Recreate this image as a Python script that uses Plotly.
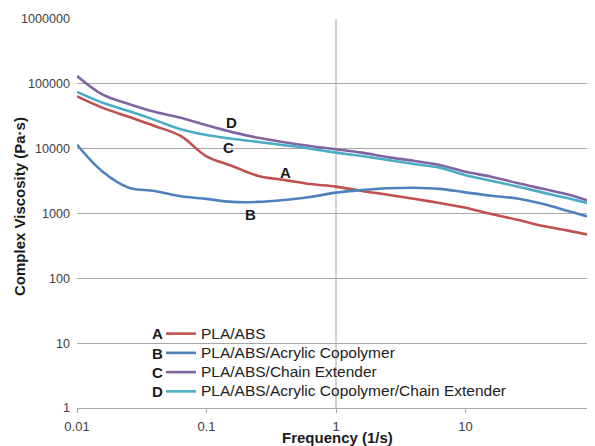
import math
import plotly.graph_objects as go

freq = [0.01, 0.0158, 0.0251, 0.0398, 0.0631, 0.1, 0.158, 0.251, 0.398, 0.631,
        1, 1.58, 2.51, 3.98, 6.31, 10, 15.8, 25.1, 39.8, 63.1, 100]

visc_A = [64000, 42600, 31000, 22400, 15700, 7600, 5400, 3800, 3300, 2850,
          2600, 2230, 1950, 1690, 1450, 1230, 980, 800, 640, 540, 450]
visc_B = [11500, 4400, 2500, 2230, 1850, 1680, 1510, 1510, 1620, 1800,
          2100, 2300, 2450, 2500, 2400, 2120, 1880, 1700, 1400, 1080, 830]
visc_C = [132000, 68000, 49000, 37000, 30000, 23000, 18000, 14700, 12600, 11000,
          9800, 8700, 7400, 6500, 5600, 4400, 3700, 2950, 2400, 1950, 1450]
visc_D = [75000, 51000, 38000, 27800, 20000, 16300, 14200, 12700, 11300, 10000,
          8700, 7700, 6700, 5800, 5100, 3900, 3200, 2600, 2100, 1700, 1350]

series_names = ["PLA/ABS", "PLA/ABS/Acrylic Copolymer", "PLA/ABS/Chain Extender",
                "PLA/ABS/Acrylic Copolymer/Chain Extender"]
series_letters = ["A", "B", "C", "D"]
series_colors = ["#C0504D", "#4F81BD", "#8064A2", "#4BACC6"]

y_ticks = [1, 10, 100, 1000, 10000, 100000, 1000000]
y_ticktext = ["1", "10", "100", "1000", "10000", "100000", "1000000"]
x_ticks = [0.01, 0.1, 1, 10]
x_ticktext = ["0.01", "0.1", "1", "10"]

x_title = "Frequency (1/s)"
y_title = "Complex Viscosity (Pa·s)"

# in-plot curve labels (frequency, viscosity)
label_text = ["D", "C", "A", "B"]
label_x = [0.157, 0.147, 0.404, 0.217]
label_y = [25000, 10300, 4240, 950]

FONT = "Liberation Sans, Arial, sans-serif"

# figure geometry (page body adds an 8px offset)
W, H = 587, 438
plot_l, plot_r, plot_t, plot_b = 69, 587, 11, 400


def px_to_paper(px, py):
    return (px - plot_l) / (plot_r - plot_l), (plot_b - py) / (plot_b - plot_t)


fig = go.Figure()
for name, vals, col in zip(series_names, [visc_A, visc_B, visc_C, visc_D], series_colors):
    fig.add_trace(go.Scatter(x=freq, y=vals, mode="lines",
                             name='<span style="font-size:15.5px">%s</span>' % name,
                             line=dict(color=col, width=2.6, shape="spline", smoothing=1.0)))

for t, xv, yv in zip(label_text, label_x, label_y):
    fig.add_annotation(x=math.log10(xv), y=math.log10(yv), text="<b>%s</b>" % t,
                       showarrow=False, xref="x", yref="y", xanchor="center", yanchor="middle",
                       font=dict(family=FONT, size=15, color="#1a1a1a"))

# legend letters
letter_rows = [325, 345, 364, 383]
for t, ry in zip(series_letters, letter_rows):
    ax_, ay_ = px_to_paper(149, ry)
    fig.add_annotation(x=ax_, y=ay_, text="<b>%s</b>" % t, showarrow=False,
                       xref="paper", yref="paper", xanchor="center", yanchor="middle",
                       font=dict(family=FONT, size=15, color="#1a1a1a"))

# axis titles
tx, ty = px_to_paper(329, 429.5)
fig.add_annotation(x=tx, y=ty, text="<b>%s</b>" % x_title, showarrow=False,
                   xref="paper", yref="paper", xanchor="center", yanchor="middle",
                   font=dict(family=FONT, size=15, color="#1a1a1a"))
tx, ty = px_to_paper(11, 199)
fig.add_annotation(x=tx, y=ty, text="<b>%s</b>" % y_title, showarrow=False, textangle=-90,
                   xref="paper", yref="paper", xanchor="center", yanchor="middle",
                   font=dict(family=FONT, size=15, color="#1a1a1a"))

fig.add_shape(type="line", x0=1, x1=1, y0=0, y1=1, xref="x", yref="paper",
              line=dict(color="#A6A6A6", width=1), layer="below")

lx, ly = px_to_paper(153, 311)
fig.update_layout(
    width=W, height=H,
    margin=dict(l=plot_l, r=W - plot_r, t=plot_t, b=H - plot_b, pad=0),
    paper_bgcolor="white", plot_bgcolor="white",
    font=dict(family=FONT, size=13, color="#404040"),
    showlegend=True,
    legend=dict(x=lx, y=ly, xanchor="left", yanchor="top", bgcolor="rgba(0,0,0,0)",
                font=dict(family=FONT, size=12.5, color="#222222"),
                itemwidth=30, tracegroupgap=0),
    xaxis=dict(type="log", range=[-2, 2], tickvals=x_ticks, ticktext=x_ticktext,
               showgrid=False, zeroline=False, showline=True, linecolor="#A6A6A6",
               ticks="outside", ticklen=4, tickcolor="#A6A6A6", automargin=False,
               ticklabelstandoff=2,
               tickfont=dict(family=FONT, size=13, color="#404040")),
    yaxis=dict(type="log", range=[0, 6], tickvals=y_ticks, ticktext=y_ticktext,
               showgrid=True, gridcolor="#A6A6A6", gridwidth=1, zeroline=False,
               showline=False, ticks="", automargin=False, ticklabelstandoff=6,
               tickfont=dict(family=FONT, size=12.6, color="#404040")),
)

fig.write_html("out.html")
